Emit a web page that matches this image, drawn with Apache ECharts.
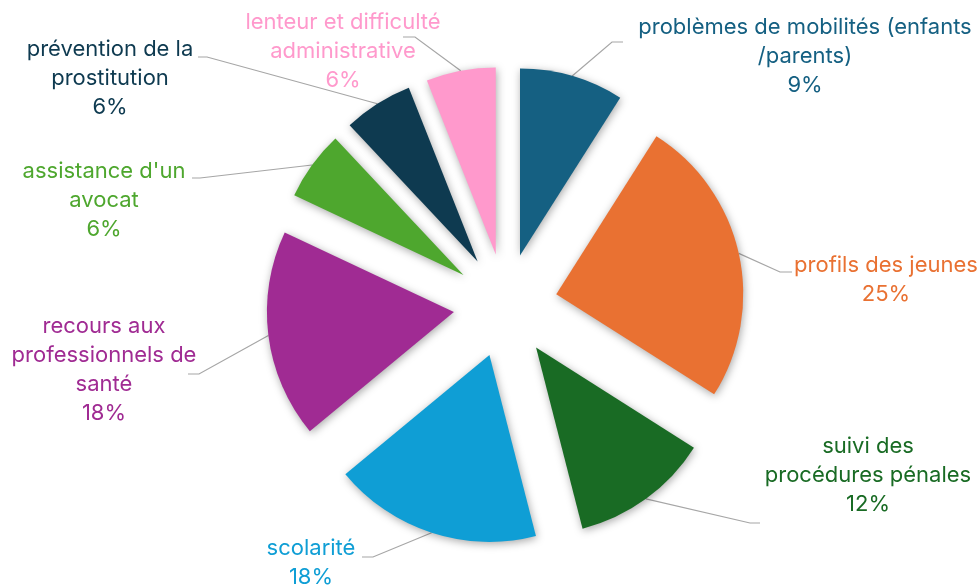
<!DOCTYPE html>
<html>
<head>
<meta charset="utf-8">
<script src="https://cdn.jsdelivr.net/npm/echarts@6/dist/echarts.min.js"></script>
<style>
  html, body { margin: 0; padding: 0; background: #fff; }
  #chart { width: 980px; height: 585px; }
</style>
</head>
<body>
<div id="chart"></div>
<script>
// categories (line breaks as shown in the labels)
const categories = [
  'problèmes de mobilités (enfants\n/parents)',
  'profils des jeunes',
  'suivi des\nprocédures pénales',
  'scolarité',
  'recours aux\nprofessionnels de\nsanté',
  "assistance d'un\navocat",
  'prévention de la\nprostitution',
  'lenteur et difficulté\nadministrative'
]
const values = [9, 25, 12, 18, 18, 6, 6, 6]
const colors = ['#156082', '#E97132', '#196B24', '#0F9ED5', '#A02B93', '#4EA72E', '#0E3A50', '#FF99CC']

// layout of the pie and its labels
const CX = 505.5
const CY = 305.5
const RADIUS = 187
const EXPLODE = 52

// label block centre + leader line elbow/end per slice
const labelPos = [
  { x: 805, y: 56, elbow: [612, 42], end: [623, 42] },
  { x: 886, y: 280, elbow: [780, 272], end: [792, 272] },
  { x: 868, y: 475, elbow: [750, 523], end: [760, 523] },
  { x: 311, y: 563, elbow: [373, 557], end: [362, 557] },
  { x: 104, y: 370, elbow: [199, 374], end: [188, 374] },
  { x: 104, y: 200, elbow: [200, 178], end: [192, 178] },
  { x: 110, y: 78, elbow: [207, 57], end: [198, 57] },
  { x: 343, y: 51, elbow: [415, 37], end: [403, 37] }
]

const total = values.reduce((a, b) => a + b, 0)

const chart = echarts.init(document.getElementById('chart'), null, { renderer: 'canvas' })

// one pie per slice, each shifted out along its mid angle (exploded pie)
let acc = 0
const series = values.map((v, i) => {
  const mid = (acc + v / 2) / total * Math.PI * 2
  acc += v
  const cx = CX + EXPLODE * Math.sin(mid)
  const cy = CY - EXPLODE * Math.cos(mid)
  return {
    type: 'pie',
    silent: true,
    radius: RADIUS,
    center: [cx, cy],
    startAngle: 90,
    clockwise: true,
    avoidLabelOverlap: false,
    animation: false,
    emphasis: { disabled: true },
    data: values.map((val, j) => {
      const visible = j === i
      return {
        name: categories[j],
        value: val,
        itemStyle: visible ? {
          color: colors[j],
          shadowBlur: 8,
          shadowColor: 'rgba(0,0,0,0.35)',
          shadowOffsetX: 1,
          shadowOffsetY: 2
        } : { color: 'rgba(0,0,0,0)', opacity: 0 },
        label: visible ? {
          show: true,
          position: 'outside',
          color: colors[j],
          fontFamily: 'Inter',
          fontSize: 22,
          lineHeight: 29,
          align: 'center',
          formatter: p => p.name + '\n' + Math.round(p.percent) + '%'
        } : { show: false },
        labelLine: visible ? {
          show: true,
          lineStyle: { color: '#a6a6a6', width: 1.2 }
        } : { show: false }
      }
    }),
    labelLayout: params => {
      if (params.dataIndex !== i) return {}
      const pos = labelPos[i]
      const start = params.labelLinePoints ? params.labelLinePoints[0].slice() : pos.elbow
      return {
        x: pos.x,
        y: pos.y,
        align: 'center',
        verticalAlign: 'middle',
        labelLinePoints: [start, pos.elbow, pos.end]
      }
    }
  }
})

chart.setOption({
  backgroundColor: '#ffffff',
  series: series
})
</script>
</body>
</html>
